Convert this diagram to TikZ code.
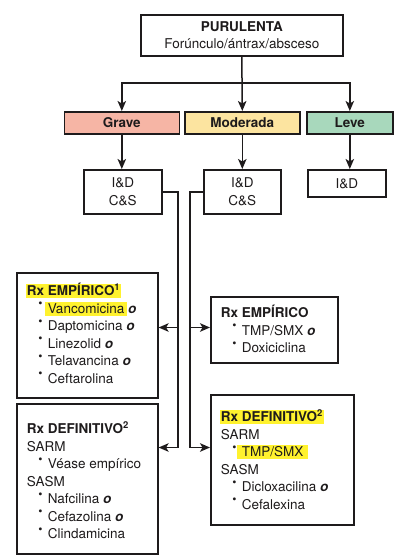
\documentclass[tikz,border=0pt]{standalone}
\usepackage{fontspec}
\setmainfont{TeX Gyre Heros}
\usetikzlibrary{arrows.meta}
\definecolor{ink}{HTML}{1E1B1C}
\definecolor{gravec}{HTML}{F6B5A5}
\definecolor{modc}{HTML}{FCE4A0}
\definecolor{levec}{HTML}{A8D8BC}
\definecolor{hly}{HTML}{FFF22E}
\newcommand{\hl}[2][1pt]{\begingroup\sbox0{#2}\hspace*{-#1}\rlap{\color{hly}\rule[-2.5pt]{\dimexpr\wd0+#1+#1\relax}{14pt}}\hspace*{#1}\usebox0\endgroup}
\newcommand{\bul}{\hspace*{11.5pt}\makebox[9.5pt][l]{\raisebox{5.5pt}{\fontsize{12}{12}\selectfont •}}}
\newcommand{\oral}{\textbf{\textit{o}}}
\newcommand{\firstline}[1]{\rule{0pt}{#1}}
\begin{document}
\begin{tikzpicture}[x=1pt,y=-1pt,
  every node/.style={text=ink, font=\fontsize{13.5}{17.5}\selectfont},
  box/.style={draw=ink, line width=1.6pt, fill=white, inner sep=0pt, anchor=north west},
  sev/.style={box, font=\fontsize{13.5}{17.5}\selectfont\bfseries},
  line/.style={draw=ink, line width=1.5pt},
  arr/.style={line, -{Stealth[length=10pt,width=8.5pt,inset=2.5pt]}}]
\useasboundingbox (0,0) rectangle (419,559);

% top
\node[box, minimum width=202pt, minimum height=41pt, align=center] (top) at (140,14)
  {\textbf{PURULENTA}\\Forúnculo/ántrax/absceso};

% severity
\node[sev, fill=gravec, minimum width=115pt, minimum height=22pt] (grave) at (63.5,111) {Grave};
\node[sev, fill=modc, minimum width=115pt, minimum height=22pt] (mod) at (184,111) {Moderada};
\node[sev, fill=levec, minimum width=86pt, minimum height=22pt] (leve) at (306,111) {Leve};

% I&D
\node[box, minimum width=78pt, minimum height=44pt, align=center] (idg) at (83,169) {I\&D\\C\&S};
\node[box, minimum width=77pt, minimum height=44pt, align=center] (idm) at (203,169) {I\&D\\C\&S};
\node[box, minimum width=78pt, minimum height=27pt, align=center] (idl) at (307,169) {I\&D};

% left boxes
\node[box, minimum width=141pt, minimum height=125pt] (le) at (16,272)
 {\begin{minipage}[c][125pt][t]{121pt}\raggedright
  \firstline{23pt}\hl[1pt]{\textbf{Rx EMPÍRICO\textsuperscript{1}}}\\
  \bul\hl[2.5pt]{Vancomicina} \oral\\
  \bul Daptomicina \oral\\
  \bul Linezolid \oral\\
  \bul Telavancina \oral\\
  \bul Ceftarolina
 \end{minipage}};
\node[box, minimum width=141pt, minimum height=150pt] (ld) at (16,403)
 {\begin{minipage}[c][150pt][t]{121pt}\raggedright
  \firstline{30pt}\textbf{Rx DEFINITIVO\textsuperscript{2}}\\
  SARM\\
  \bul Véase empírico\\
  SASM\\
  \bul Nafcilina \oral\\
  \bul Cefazolina \oral\\
  \bul Clindamicina
 \end{minipage}};

% right boxes
\node[box, minimum width=127pt, minimum height=66pt] (re) at (210,296)
 {\begin{minipage}[c][66pt][t]{107pt}\raggedright
  \firstline{21pt}\textbf{Rx EMPÍRICO}\\
  \bul TMP/SMX \oral\\
  \bul Doxiciclina
 \end{minipage}};
\node[box, minimum width=143pt, minimum height=130pt] (rd) at (210,394)
 {\begin{minipage}[c][130pt][t]{123pt}\raggedright
  \firstline{27pt}\hl[1pt]{\textbf{Rx DEFINITIVO\textsuperscript{2}}}\\
  SARM\\
  \bul\hl[5pt]{TMP/SMX}\\
  SASM\\
  \bul Dicloxacilina \oral\\
  \bul Cefalexina
 \end{minipage}};

% connectors top
\coordinate (jn) at (240,83);
\draw[arr] (top.south) -- (mod.north);
\draw[arr] (jn) -| (grave.north);
\draw[arr] (jn) -| (leve.north);

\draw[arr] (grave.south) -- (grave.south |- idg.north);
\draw[arr] (mod.south) -- (mod.south |- idm.north);
\draw[arr] (leve.south) -- (leve.south |- idl.north);

% connectors to treatment
\coordinate (gl) at (178,447.5);
\coordinate (gb) at (178,327.5);
\coordinate (ml) at (190,447.5);
\coordinate (mb) at (190,327.5);
\draw[arr] (idg.east) -| (gl) -- (gl -| ld.east);
\draw[arr] (gb) -- (gb -| le.east);
\draw[arr] (idm.west) -| (ml) -- (ml -| rd.west);
\draw[arr] (mb) -- (mb -| re.west);
\end{tikzpicture}
\end{document}
